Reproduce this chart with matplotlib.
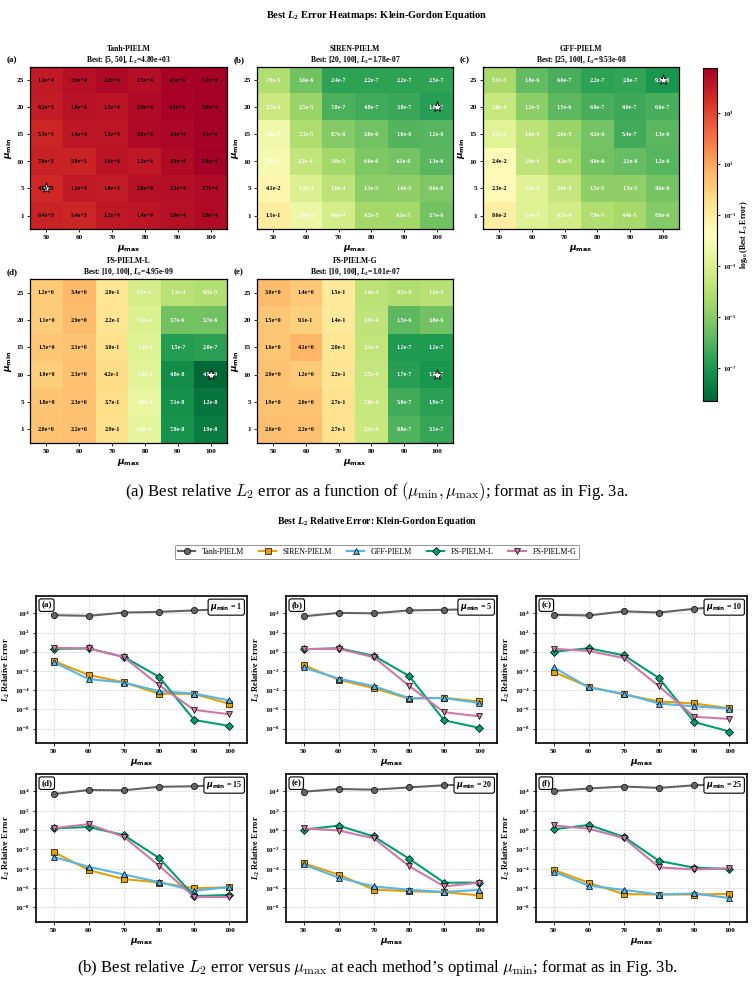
import numpy as np
import matplotlib
matplotlib.use('Agg')
import matplotlib.pyplot as plt
from matplotlib.colors import LogNorm
from matplotlib.ticker import FixedLocator, LogFormatterMathtext, NullLocator
from matplotlib.lines import Line2D

plt.rcParams['font.family'] = ['Liberation Serif', 'DejaVu Serif']
plt.rcParams['font.weight'] = 'bold'
plt.rcParams['mathtext.fontset'] = 'custom'
plt.rcParams['mathtext.rm'] = 'Liberation Serif:bold'
plt.rcParams['mathtext.it'] = 'Liberation Serif:italic:bold'
plt.rcParams['mathtext.bf'] = 'Liberation Serif:bold'

# ---------------- data ----------------
mu_max = [50, 60, 70, 80, 90, 100]
mu_min = [1, 5, 10, 15, 20, 25]
methods = ['Tanh-PIELM', 'SIREN-PIELM', 'GFF-PIELM', 'FS-PIELM-L', 'FS-PIELM-G']

# rows: mu_min = 1, 5, 10, 15, 20, 25 ; cols: mu_max = 50..100
tanh = [[6.4e3, 5.4e3, 1.2e4, 1.4e4, 2.0e4, 2.8e4],
        [4.80e3, 1.1e4, 1.0e4, 2.0e4, 2.3e4, 2.7e4],
        [7.0e3, 5.9e3, 1.6e4, 1.2e4, 2.9e4, 5.8e4],
        [5.3e3, 1.4e4, 1.3e4, 3.0e4, 3.4e4, 5.1e4],
        [9.2e3, 1.8e4, 1.5e4, 2.6e4, 4.3e4, 5.9e4],
        [1.1e4, 2.0e4, 3.2e4, 2.3e4, 4.3e4, 5.7e4]]
siren = [[1.1e-1, 3.8e-3, 6.6e-4, 4.2e-5, 4.1e-5, 3.7e-6],
         [4.1e-2, 1.2e-3, 1.6e-4, 1.3e-5, 1.6e-5, 6.6e-6],
         [8.1e-3, 2.2e-4, 3.6e-5, 6.6e-6, 4.1e-6, 1.3e-6],
         [5.6e-3, 7.3e-5, 8.7e-6, 3.8e-6, 1.0e-6, 1.2e-6],
         [3.7e-4, 2.5e-5, 7.0e-7, 4.8e-7, 3.8e-7, 1.78e-7],
         [7.9e-5, 3.6e-6, 2.4e-7, 2.2e-7, 2.2e-7, 2.5e-7]]
gff = [[8.6e-2, 1.4e-3, 6.2e-4, 7.8e-5, 4.4e-5, 8.6e-6],
       [2.3e-2, 1.6e-3, 2.6e-4, 1.5e-5, 1.5e-5, 4.6e-6],
       [2.4e-2, 1.9e-4, 4.2e-5, 4.0e-6, 2.1e-6, 1.2e-6],
       [1.7e-3, 1.6e-4, 2.6e-5, 4.2e-6, 5.4e-7, 1.3e-6],
       [2.8e-4, 1.2e-5, 1.5e-6, 6.8e-7, 4.0e-7, 6.6e-7],
       [5.1e-5, 1.8e-6, 6.6e-7, 2.2e-7, 2.8e-7, 9.53e-8]]
fsl = [[2.0e0, 2.2e0, 2.9e-1, 2.4e-3, 7.8e-8, 1.9e-8],
       [1.8e0, 2.3e0, 3.7e-1, 3.0e-3, 7.1e-8, 1.2e-8],
       [1.0e0, 2.3e0, 4.2e-1, 1.8e-3, 4.8e-8, 4.95e-9],
       [1.5e0, 2.1e0, 3.0e-1, 1.3e-3, 1.5e-7, 2.0e-7],
       [1.1e0, 2.9e0, 2.2e-1, 1.1e-3, 3.7e-6, 3.7e-6],
       [1.2e0, 3.4e0, 2.0e-1, 6.5e-4, 1.3e-4, 9.5e-5]]
fsg = [[2.6e0, 2.2e0, 2.7e-1, 3.3e-4, 8.8e-7, 3.1e-7],
       [1.9e0, 2.0e0, 2.7e-1, 2.8e-4, 5.0e-7, 1.9e-7],
       [2.0e0, 1.2e0, 2.2e-1, 2.5e-4, 1.7e-7, 1.01e-7],
       [1.6e0, 4.1e0, 2.0e-1, 2.1e-4, 1.2e-7, 1.2e-7],
       [1.5e0, 9.1e-1, 1.4e-1, 1.9e-4, 1.5e-6, 3.8e-6],
       [3.0e0, 1.4e0, 1.5e-1, 1.4e-4, 8.5e-5, 1.1e-4]]
data = [tanh, siren, gff, fsl, fsg]

colors = ['#646464', '#E69F00', '#56B4E9', '#009E73', '#CC79A7']
markers = ['o', 's', '^', 'D', 'v']
letters = ['a', 'b', 'c', 'd', 'e', 'f']

# ---------------- figure ----------------
W, H = 754, 986
fig = plt.figure(figsize=(W / 100, H / 100), dpi=100)


def add_ax(x0, y0, x1, y1):
    return fig.add_axes([x0 / W, 1 - y1 / H, (x1 - x0) / W, (y1 - y0) / H])


def ftxt(x, y, s, **kw):
    return fig.text(x / W, 1 - y / H, s, **kw)


def fmt(v):
    m, e = f"{v:.1e}".split('e')
    return f"{m}e{int(e):+d}"


# ---------------- heatmaps ----------------
ftxt(377, 15, r'Best $L_2$ Error Heatmaps: Klein-Gordon Equation', ha='center', va='center',
     fontsize=7.5, fontweight='bold')

hm_boxes = [(30, 67, 227, 229), (257, 67, 453, 229), (483, 67, 679, 229),
            (30, 279, 227, 443), (257, 279, 453, 443)]
all_vals = np.concatenate([np.ravel(d) for d in data])
norm = LogNorm(vmin=all_vals.min(), vmax=all_vals.max())
cmap = plt.get_cmap('RdYlGn_r')
lmid = (np.log10(norm.vmin) + np.log10(norm.vmax)) / 2
im = None
for k, (name, d) in enumerate(zip(methods, data)):
    ax = add_ax(*hm_boxes[k])
    arr = np.array(d)
    im = ax.imshow(arr, cmap=cmap, norm=norm, origin='lower', aspect='auto')
    for i in range(arr.shape[0]):
        for j in range(arr.shape[1]):
            v = arr[i, j]
            ax.text(j, i, fmt(v), ha='center', va='center', fontsize=4.3, fontweight='bold',
                    color='black' if np.log10(v) > lmid else 'white')
    bi, bj = np.unravel_index(np.argmin(arr), arr.shape)
    ax.plot(bj, bi, marker='*', ms=8, mfc='white', mec='black', mew=0.6, ls='none')
    ax.set_title(f"{name}\nBest: [{mu_min[bi]}, {mu_max[bj]}], $L_2$={arr[bi, bj]:.2e}",
                 fontsize=5.5, fontweight='bold', pad=3, linespacing=1.25)
    ax.set_xticks(range(len(mu_max)))
    ax.set_xticklabels(mu_max)
    ax.set_yticks(range(len(mu_min)))
    ax.set_yticklabels(mu_min)
    ax.tick_params(labelsize=5.2, length=2.5, width=0.6, pad=2)
    ax.set_xlabel(r'$\mu_{\max}$', math_fontfamily='dejavusans', fontsize=6.5, fontweight='normal', labelpad=2)
    ax.set_ylabel(r'$\mu_{\min}$', math_fontfamily='dejavusans', fontsize=6.5, fontweight='normal', labelpad=2)
    for sp in ax.spines.values():
        sp.set_linewidth(0.9)
    ax.text(-0.12, 1.015, f'({letters[k]})', transform=ax.transAxes, ha='left', va='bottom',
            fontsize=6.5, fontweight='bold')

cax = add_ax(703, 68, 717, 401)
cb = fig.colorbar(im, cax=cax)
cb.set_ticks([1e-7, 1e-5, 1e-3, 1e-1, 1e1, 1e3])
cb.ax.yaxis.set_major_formatter(LogFormatterMathtext())
cb.minorticks_off()
cb.ax.tick_params(labelsize=4.8, length=2.5, width=0.6, pad=2)
cb.outline.set_linewidth(0.8)
cb.set_label(r'$\log_{10}$(Best $L_2$ Error)', fontsize=5.6, fontweight='bold', labelpad=1)

# caption (a)
ftxt(377, 492, r"(a) Best relative $L_2$ error as a function of $(\mu_{\min}, \mu_{\max})$; format as in Fig. 3a.",
     ha='center', va='center', fontsize=12, fontweight='normal', math_fontfamily='cm')

# ---------------- line plots ----------------
ftxt(377, 522, r'Best $L_2$ Relative Error: Klein-Gordon Equation', ha='center', va='center',
     fontsize=7, fontweight='bold')

line_boxes = [(36, 596, 247, 743), (286, 596, 497, 743), (536, 596, 747, 743),
              (36, 774, 247, 922), (286, 774, 497, 922), (536, 774, 747, 922)]
for p, m in enumerate(mu_min):
    ax = add_ax(*line_boxes[p])
    for k, d in enumerate(data):
        ax.plot(mu_max, d[p], color=colors[k], marker=markers[k], ms=4.5 if markers[k] != 'D' else 4.3,
                mec='black', mew=0.5, lw=1.5, zorder=3 + k)
    ax.set_yscale('log')
    ax.set_ylim(10 ** -9.5, 10 ** 5.8)
    ax.set_xlim(45, 105)
    ax.set_xticks(mu_max)
    ax.yaxis.set_major_locator(FixedLocator([10.0 ** e for e in range(-8, 5, 2)]))
    ax.yaxis.set_minor_locator(NullLocator())
    ax.yaxis.set_major_formatter(LogFormatterMathtext())
    ax.grid(True, ls='--', lw=0.5, color='#cfcfcf')
    ax.set_axisbelow(True)
    ax.tick_params(labelsize=5.2, length=2.5, width=0.6, pad=2)
    for sp in ax.spines.values():
        sp.set_linewidth(1.2)
    ax.set_xlabel(r'$\mu_{\max}$', math_fontfamily='dejavusans', fontsize=6.5, fontweight='normal', labelpad=2)
    ax.set_ylabel(r'$L_2$ Relative Error', fontsize=6, fontweight='bold', labelpad=2)
    ax.text(0.025, 0.965, f'({letters[p]})', transform=ax.transAxes, ha='left', va='top',
            fontsize=6.5, fontweight='bold', zorder=10,
            bbox=dict(boxstyle='round,pad=0.25', fc='white', ec='black', lw=0.8))
    ax.text(0.978, 0.965, rf'$\mu_{{\min}}$ = {m}', transform=ax.transAxes, ha='right', va='top',
            fontsize=5.8, fontweight='bold', zorder=10, math_fontfamily='dejavusans',
            bbox=dict(boxstyle='round,pad=0.25', fc='white', ec='black', lw=0.8))

handles = [Line2D([], [], color=colors[k], marker=markers[k], ms=4.5, mec='black', mew=0.5, lw=1.5)
           for k in range(len(methods))]
leg = fig.legend(handles, methods, loc='center', bbox_to_anchor=(377 / W, 1 - 552 / H), ncol=5,
                 prop={'family': 'Liberation Serif', 'weight': 'normal', 'size': 5.8},
                 frameon=True, fancybox=True, edgecolor='#777777', handlelength=2.2,
                 columnspacing=1.8, borderpad=0.4)
leg.get_frame().set_linewidth(0.7)

ftxt(377, 968, r"(b) Best relative $L_2$ error versus $\mu_{\max}$ at each method’s optimal $\mu_{\min}$; format as in Fig. 3b.",
     ha='center', va='center', fontsize=12, fontweight='normal', math_fontfamily='cm')

fig.savefig('out.png', dpi=100)
